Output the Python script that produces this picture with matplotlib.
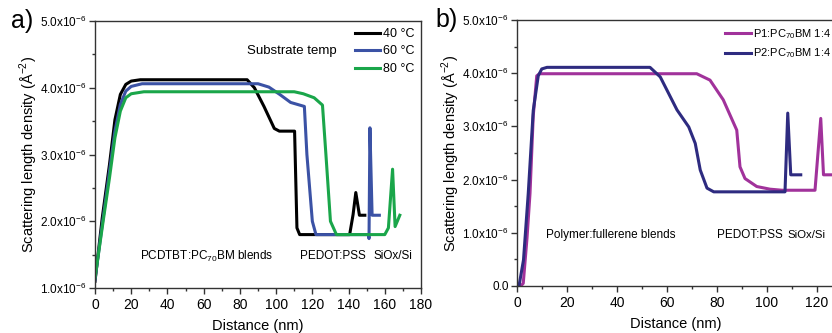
import matplotlib
matplotlib.use("Agg")
import matplotlib.pyplot as plt
from matplotlib.ticker import MultipleLocator, FuncFormatter

plt.rcParams['font.family'] = ['Liberation Sans', 'DejaVu Sans']
plt.rcParams['mathtext.fontset'] = 'custom'
plt.rcParams['mathtext.rm'] = 'Liberation Sans'

# panel a: substrate temperature (x in nm, y in 1e-6 A^-2)
x40 = [0, 4, 8, 11, 14, 17, 20, 25, 84, 88, 93.3, 99, 101.8, 110.2, 111.5, 113, 140.6, 142.5, 144, 146, 149]
y40 = [1.10, 2.05, 2.85, 3.52, 3.90, 4.05, 4.10, 4.12, 4.12, 4.00, 3.72, 3.39, 3.35, 3.35, 1.90, 1.80, 1.80, 2.10, 2.43, 2.09, 2.09]
x60 = [0, 4, 8, 11, 14, 17, 20, 26, 90, 96, 102, 108, 115.6, 117, 120, 122, 151, 151.3, 151.8, 153, 157]
y60 = [1.12, 1.95, 2.75, 3.35, 3.75, 3.95, 4.02, 4.06, 4.06, 4.01, 3.90, 3.78, 3.72, 3.00, 2.00, 1.80, 1.80, 1.74, 3.40, 2.09, 2.09]
x80 = [0, 4.6, 8, 11, 14, 17, 20, 27, 110, 115, 121, 125.6, 127.5, 130, 133.3, 160, 162, 164.3, 165.7, 168.3]
y80 = [1.15, 2.02, 2.65, 3.25, 3.65, 3.85, 3.91, 3.94, 3.94, 3.91, 3.85, 3.74, 3.00, 2.00, 1.80, 1.80, 1.90, 2.78, 1.92, 2.09]

# panel b: polymer:fullerene blends
xp1 = [0, 1.5, 2.5, 4, 5.2, 6.5, 7.9, 9, 71.9, 77.2, 82.5, 87.9, 89.2, 91.2, 95.9, 101.2, 106, 119.2, 121.5, 122.6, 127]
yp1 = [0, 0, 0.05, 0.9, 1.74, 3.2, 3.95, 3.99, 3.99, 3.87, 3.50, 2.93, 2.24, 2.02, 1.87, 1.82, 1.80, 1.80, 3.15, 2.09, 2.09]
xp2 = [0, 0.8, 2.6, 4.5, 6.5, 8.5, 9.9, 12, 53.2, 57.3, 64, 68.7, 71.3, 73.3, 76, 78.7, 107.2, 108.3, 109.5, 113.5]
yp2 = [0, 0, 0.49, 1.74, 3.3, 3.95, 4.08, 4.11, 4.11, 3.93, 3.31, 2.99, 2.68, 2.18, 1.84, 1.77, 1.77, 3.25, 2.09, 2.09]

W, H = 832, 333
fig = plt.figure(figsize=(W / 100, H / 100), dpi=100)
ax1 = fig.add_axes([95 / W, 1 - 288 / H, 326 / W, 267 / H])
# panel b runs off the right edge of the figure, as in the original
ax2 = fig.add_axes([517 / W, 1 - 286 / H, 318 / W, 266 / H])


def ylab(v, pos):
    if abs(v) < 1e-9:
        return '0.0'
    return r'$\mathregular{%.1fx10^{-6}}$' % v


def style(ax):
    for s in ax.spines.values():
        s.set_linewidth(1.0)
        s.set_color('#333333')
    ax.tick_params(which='both', direction='out', top=False, right=False,
                   colors='#333333', labelcolor='black')
    ax.tick_params(which='major', length=4, width=1, labelsize=10)
    ax.tick_params(which='minor', length=2.5, width=1)
    ax.tick_params(axis='y', labelsize=8.5, pad=2)
    ax.xaxis.set_major_locator(MultipleLocator(20))
    ax.xaxis.set_minor_locator(MultipleLocator(10))
    ax.yaxis.set_major_locator(MultipleLocator(1))
    ax.yaxis.set_minor_locator(MultipleLocator(0.5))
    ax.yaxis.set_major_formatter(FuncFormatter(ylab))
    ax.set_xlabel('Distance (nm)', fontsize=10.5, labelpad=5)
    ax.set_ylabel('Scattering length density (Å$^{-2}$)', fontsize=10.5, labelpad=0)


lw = 2.2
ax1.plot(x40, y40, color='black', lw=lw, label='40 °C')
ax1.plot(x60, y60, color='#3b52a5', lw=lw, label='60 °C')
ax1.plot(x80, y80, color='#1aa64a', lw=lw, label='80 °C')
ax1.set_xlim(0, 180)
ax1.set_ylim(1, 5)
style(ax1)
ax1.legend(loc='upper right', frameon=False, fontsize=9, handlelength=2.0,
           handletextpad=0.2, labelspacing=0.45, borderaxespad=0.15,
           bbox_to_anchor=(1.0, 1.0))
ax1.text(0.465, 0.876, 'Substrate temp', transform=ax1.transAxes, fontsize=9.5)
ax1.text(0.138, 0.12, r'PCDTBT:PC$_{70}$BM blends', transform=ax1.transAxes,
         fontsize=8.5, va='center')
ax1.text(0.629, 0.12, 'PEDOT:PSS', transform=ax1.transAxes, fontsize=8.5, va='center')
ax1.text(0.853, 0.12, 'SiOx/Si', transform=ax1.transAxes, fontsize=8.5, va='center')
ax1.text(-0.258, 1.0, 'a)', transform=ax1.transAxes, fontsize=18, va='center')

ax2.plot(xp1, yp1, color='#a1329b', lw=lw, label=r'P1:PC$_{70}$BM 1:4')
ax2.plot(xp2, yp2, color='#2e2b80', lw=lw, label=r'P2:PC$_{70}$BM 1:4')
ax2.set_xlim(0, 127.2)
ax2.set_ylim(0, 5)
style(ax2)
ax2.legend(loc='upper left', frameon=False, fontsize=8, handlelength=2.3,
           handletextpad=0.2, labelspacing=0.5, borderaxespad=0.0,
           bbox_to_anchor=(0.64, 0.99))
ax2.text(0.092, 0.19, 'Polymer:fullerene blends', transform=ax2.transAxes,
         fontsize=8.5, va='center')
ax2.text(0.63, 0.19, 'PEDOT:PSS', transform=ax2.transAxes, fontsize=8.5, va='center')
ax2.text(0.85, 0.19, 'SiOx/Si', transform=ax2.transAxes, fontsize=8.2, va='center')
ax2.text(-0.255, 1.0, 'b)', transform=ax2.transAxes, fontsize=18, va='center')

fig.savefig('out.png', dpi=100)
